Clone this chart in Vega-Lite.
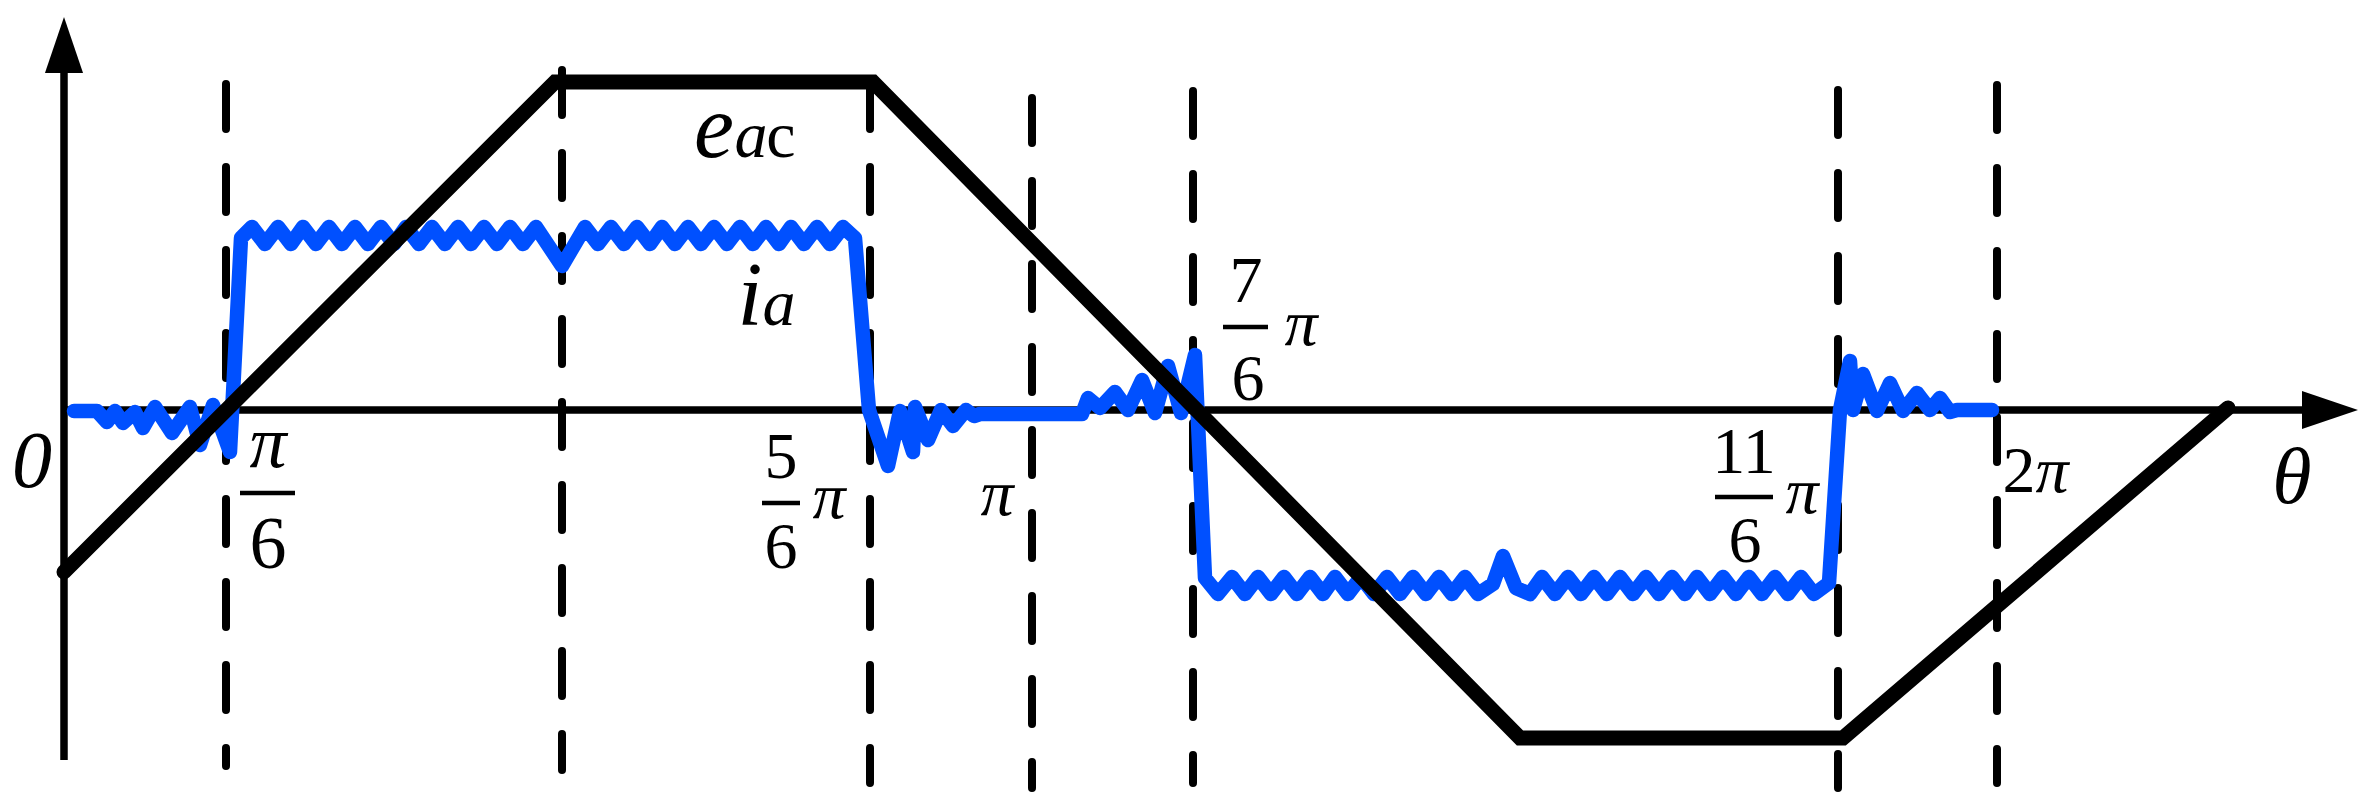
{
  "$schema": "https://vega.github.io/schema/vega-lite/v6.json",
  "width": 2369,
  "height": 810,
  "autosize": {"type": "fit", "contains": "padding"},
  "padding": 0,
  "background": "white",
  "config": {"view": {"stroke": null}},
  "datasets": {
    "guides": [
      {"x": 162, "y": 326, "y2": -356},
      {"x": 498, "y": 340, "y2": -360},
      {"x": 806, "y": 326, "y2": -373},
      {"x": 968, "y": 312, "y2": -378},
      {"x": 1129, "y": 319, "y2": -373},
      {"x": 1774, "y": 320, "y2": -378},
      {"x": 1933, "y": 325, "y2": -373}
    ],
    "axes": [
      {"x": 0, "y": -350, "x2": 0, "y2": 340},
      {"x": 0, "y": 0, "x2": 2250, "y2": 0}
    ],
    "arrows": [
      {"x": 0, "y": 365, "dir": "up"},
      {"x": 2266, "y": 0, "dir": "right"}
    ],
    "bars": [
      {"x": 176, "x2": 231, "y": -83},
      {"x": 698, "x2": 736, "y": -93},
      {"x": 1159, "x2": 1204, "y": 83},
      {"x": 1651, "x2": 1709, "y": -87}
    ],
    "eac": [
      {"x": 0, "y": -162},
      {"x": 491, "y": 328},
      {"x": 809, "y": 328},
      {"x": 1456, "y": -328},
      {"x": 1779, "y": -328},
      {"x": 2164, "y": 2}
    ],
    "ia": [
      {"x": 10, "y": -1}, {"x": 33, "y": -1}, {"x": 43, "y": -12}, {"x": 51, "y": -1}, {"x": 59, "y": -13},
      {"x": 71, "y": -2}, {"x": 79, "y": -18}, {"x": 91, "y": 3}, {"x": 108, "y": -23}, {"x": 126, "y": 3},
      {"x": 136, "y": -35}, {"x": 149, "y": 5}, {"x": 166, "y": -42}, {"x": 177, "y": 172},
      {"x": 188, "y": 183}, {"x": 201, "y": 166}, {"x": 214, "y": 183}, {"x": 227, "y": 166}, {"x": 239, "y": 183},
      {"x": 252, "y": 166}, {"x": 265, "y": 183}, {"x": 278, "y": 166}, {"x": 291, "y": 183}, {"x": 304, "y": 166},
      {"x": 317, "y": 183}, {"x": 330, "y": 166}, {"x": 342, "y": 183}, {"x": 355, "y": 166}, {"x": 368, "y": 183},
      {"x": 381, "y": 166}, {"x": 394, "y": 183}, {"x": 407, "y": 166}, {"x": 420, "y": 183}, {"x": 433, "y": 166},
      {"x": 446, "y": 183}, {"x": 459, "y": 166}, {"x": 472, "y": 183}, {"x": 498, "y": 144}, {"x": 521, "y": 183},
      {"x": 534, "y": 166}, {"x": 547, "y": 183}, {"x": 560, "y": 166}, {"x": 573, "y": 183}, {"x": 586, "y": 166},
      {"x": 598, "y": 183}, {"x": 611, "y": 166}, {"x": 624, "y": 183}, {"x": 637, "y": 166}, {"x": 650, "y": 183},
      {"x": 663, "y": 166}, {"x": 676, "y": 183}, {"x": 689, "y": 166}, {"x": 702, "y": 183}, {"x": 715, "y": 166},
      {"x": 727, "y": 183}, {"x": 740, "y": 166}, {"x": 753, "y": 183}, {"x": 766, "y": 166}, {"x": 779, "y": 183},
      {"x": 791, "y": 172},
      {"x": 805, "y": 0}, {"x": 824, "y": -56}, {"x": 836, "y": -1}, {"x": 849, "y": -42}, {"x": 851, "y": 3},
      {"x": 864, "y": -30}, {"x": 877, "y": 0}, {"x": 889, "y": -16}, {"x": 902, "y": 0}, {"x": 910, "y": -6},
      {"x": 916, "y": -4}, {"x": 1018, "y": -4},
      {"x": 1024, "y": 12}, {"x": 1036, "y": 2}, {"x": 1051, "y": 18}, {"x": 1064, "y": 0}, {"x": 1078, "y": 30},
      {"x": 1091, "y": -3}, {"x": 1104, "y": 44}, {"x": 1117, "y": -3}, {"x": 1131, "y": 55}, {"x": 1141, "y": -168},
      {"x": 1154, "y": -184}, {"x": 1168, "y": -167}, {"x": 1181, "y": -184}, {"x": 1194, "y": -167}, {"x": 1207, "y": -184},
      {"x": 1220, "y": -167}, {"x": 1233, "y": -184}, {"x": 1246, "y": -167}, {"x": 1259, "y": -184}, {"x": 1271, "y": -167},
      {"x": 1284, "y": -184}, {"x": 1297, "y": -167}, {"x": 1310, "y": -184}, {"x": 1323, "y": -167}, {"x": 1336, "y": -184},
      {"x": 1349, "y": -167}, {"x": 1362, "y": -184}, {"x": 1375, "y": -167}, {"x": 1388, "y": -184}, {"x": 1401, "y": -167},
      {"x": 1414, "y": -184}, {"x": 1429, "y": -174}, {"x": 1439, "y": -146}, {"x": 1452, "y": -178}, {"x": 1466, "y": -184},
      {"x": 1478, "y": -167}, {"x": 1491, "y": -184}, {"x": 1504, "y": -167}, {"x": 1517, "y": -184}, {"x": 1530, "y": -167},
      {"x": 1543, "y": -184}, {"x": 1556, "y": -167}, {"x": 1569, "y": -184}, {"x": 1582, "y": -167}, {"x": 1595, "y": -184},
      {"x": 1608, "y": -167}, {"x": 1621, "y": -184}, {"x": 1633, "y": -167}, {"x": 1646, "y": -184}, {"x": 1659, "y": -167},
      {"x": 1672, "y": -184}, {"x": 1685, "y": -167}, {"x": 1698, "y": -184}, {"x": 1711, "y": -167}, {"x": 1724, "y": -184},
      {"x": 1737, "y": -167}, {"x": 1750, "y": -184}, {"x": 1765, "y": -173},
      {"x": 1776, "y": 0}, {"x": 1786, "y": 49}, {"x": 1789, "y": 0}, {"x": 1799, "y": 36}, {"x": 1813, "y": -1},
      {"x": 1826, "y": 27}, {"x": 1839, "y": -1}, {"x": 1853, "y": 17}, {"x": 1866, "y": 0}, {"x": 1876, "y": 12},
      {"x": 1886, "y": -2}, {"x": 1893, "y": 0}, {"x": 1928, "y": 0}
    ],
    "labels": [
      {"t": "0", "x": -32, "y": -77, "g": "i78"},
      {"t": "θ", "x": 2228, "y": -93, "g": "i78"},
      {"t": "π", "x": 204, "y": -57, "g": "i70"},
      {"t": "6", "x": 204, "y": -158, "g": "r70"},
      {"t": "5", "x": 717, "y": -68, "g": "r64"},
      {"t": "6", "x": 717, "y": -158, "g": "r64"},
      {"t": "π", "x": 765, "y": -108, "g": "i64"},
      {"t": "π", "x": 933, "y": -105, "g": "i64"},
      {"t": "7", "x": 1182, "y": 108, "g": "r64"},
      {"t": "6", "x": 1184, "y": 10, "g": "r64"},
      {"t": "π", "x": 1237, "y": 65, "g": "i64"},
      {"t": "11", "x": 1680, "y": -63, "g": "r64"},
      {"t": "6", "x": 1681, "y": -152, "g": "r64"},
      {"t": "π", "x": 1738, "y": -103, "g": "i64"},
      {"t": "2", "x": 1955, "y": -82, "g": "r64"},
      {"t": "π", "x": 1988, "y": -82, "g": "i64"},
      {"t": "e", "x": 650, "y": 253, "g": "i88"},
      {"t": "a", "x": 687, "y": 253, "g": "i64"},
      {"t": "c", "x": 717, "y": 253, "g": "r64"},
      {"t": "i", "x": 686, "y": 85, "g": "i88"},
      {"t": "a", "x": 715, "y": 85, "g": "i64"}
    ]
  },
  "encoding": {
    "x": {"field": "x", "type": "quantitative", "scale": {"domain": [-64, 2305], "nice": false, "zero": false}, "axis": null},
    "y": {"field": "y", "type": "quantitative", "scale": {"domain": [-400, 410], "nice": false, "zero": false}, "axis": null}
  },
  "layer": [
    {
      "data": {"name": "guides"},
      "mark": {"type": "rule", "color": "black", "strokeWidth": 8, "strokeDash": [45, 38], "strokeCap": "round"},
      "encoding": {"y2": {"field": "y2"}}
    },
    {
      "data": {"name": "axes"},
      "mark": {"type": "rule", "color": "black", "strokeWidth": 7.5},
      "encoding": {"x2": {"field": "x2"}, "y2": {"field": "y2"}}
    },
    {
      "data": {"name": "arrows"},
      "mark": {"type": "point", "filled": true, "color": "black", "size": 3136, "strokeWidth": 0, "opacity": 1},
      "encoding": {
        "shape": {
          "field": "dir", "type": "nominal", "legend": null,
          "scale": {"domain": ["up", "right"], "range": ["M0,-1L0.68,1L-0.68,1Z", "M1,0L-1,0.68L-1,-0.68Z"]}
        }
      }
    },
    {
      "data": {"name": "bars"},
      "mark": {"type": "rule", "color": "black", "strokeWidth": 4.5},
      "encoding": {"x2": {"field": "x2"}}
    },
    {
      "data": {"name": "ia"},
      "mark": {"type": "line", "color": "#0050ff", "strokeWidth": 14.5, "strokeJoin": "round", "strokeCap": "round"},
      "encoding": {}
    },
    {
      "data": {"name": "eac"},
      "mark": {"type": "line", "color": "black", "strokeWidth": 15, "strokeJoin": "miter", "strokeCap": "round"},
      "encoding": {}
    },
    {
      "data": {"name": "labels"},
      "transform": [{"filter": "datum.g === 'i64'"}],
      "mark": {"type": "text", "font": "Liberation Serif", "fontSize": 66, "fontStyle": "italic", "align": "center", "baseline": "alphabetic", "color": "black"},
      "encoding": {"text": {"field": "t"}}
    },
    {
      "data": {"name": "labels"},
      "transform": [{"filter": "datum.g === 'r64'"}],
      "mark": {"type": "text", "font": "Liberation Serif", "fontSize": 66, "align": "center", "baseline": "alphabetic", "color": "black"},
      "encoding": {"text": {"field": "t"}}
    },
    {
      "data": {"name": "labels"},
      "transform": [{"filter": "datum.g === 'i70'"}],
      "mark": {"type": "text", "font": "Liberation Serif", "fontSize": 74, "fontStyle": "italic", "align": "center", "baseline": "alphabetic", "color": "black"},
      "encoding": {"text": {"field": "t"}}
    },
    {
      "data": {"name": "labels"},
      "transform": [{"filter": "datum.g === 'r70'"}],
      "mark": {"type": "text", "font": "Liberation Serif", "fontSize": 74, "align": "center", "baseline": "alphabetic", "color": "black"},
      "encoding": {"text": {"field": "t"}}
    },
    {
      "data": {"name": "labels"},
      "transform": [{"filter": "datum.g === 'i78'"}],
      "mark": {"type": "text", "font": "Liberation Serif", "fontSize": 80, "fontStyle": "italic", "align": "center", "baseline": "alphabetic", "color": "black"},
      "encoding": {"text": {"field": "t"}}
    },
    {
      "data": {"name": "labels"},
      "transform": [{"filter": "datum.g === 'i88'"}],
      "mark": {"type": "text", "font": "Liberation Serif", "fontSize": 90, "fontStyle": "italic", "align": "center", "baseline": "alphabetic", "color": "black"},
      "encoding": {"text": {"field": "t"}}
    }
  ]
}
